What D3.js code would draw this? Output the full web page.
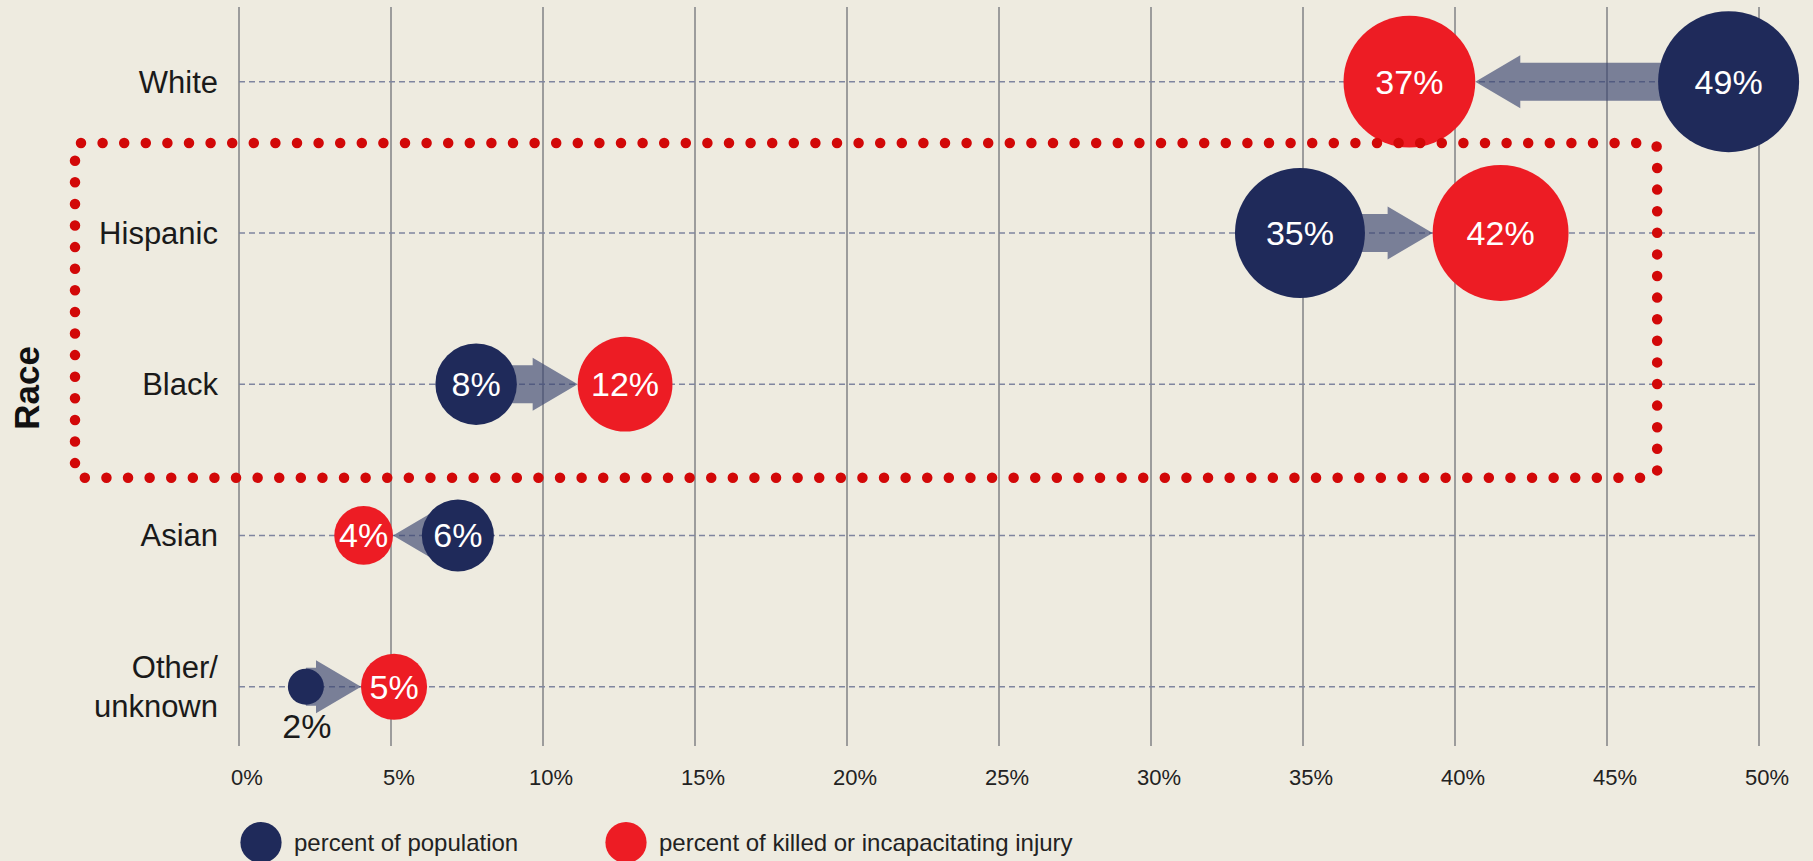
<!DOCTYPE html>
<html>
<head>
<meta charset="utf-8">
<script src="https://cdnjs.cloudflare.com/ajax/libs/d3/7.8.5/d3.min.js"></script>
<style>
  body { margin: 0; background: #eeebe0; }
  svg { display: block; }
  text { font-family: 'Liberation Sans', Arial, sans-serif; }
</style>
</head>
<body>
<div id="chart"></div>
<script>
// data
const races = ['White', 'Hispanic', 'Black', 'Asian', 'Other/unknown'];
const popPct = [49, 35, 8, 6, 2];          // percent of population
const killedPct = [37, 42, 12, 4, 5];      // percent of killed or incapacitating injury
// where each dot sits along the axis in the original (percent units)
const popAt = [49, 34.9, 7.8, 7.2, 2.2];
const killedAt = [38.5, 41.5, 12.7, 4.1, 5.1];
const xTicks = [0, 5, 10, 15, 20, 25, 30, 35, 40, 45, 50];
const legendLabels = ['percent of population', 'percent of killed or incapacitating injury'];

const width = 1813;
const height = 861;
const navy = '#1f2a5a';
const red = '#ed1c24';

const svg = d3.select('#chart')
  .append('svg')
  .attr('width', width)
  .attr('height', height);

svg.append('rect')
  .attr('width', width)
  .attr('height', height)
  .attr('fill', '#eeebe0');

const x = d3.scaleLinear().domain([0, 50]).range([239, 1759]);
const y = d3.scalePoint().domain(races).range([81.7, 686.7]);
const r = d3.scaleLog().domain([2, 49]).range([18, 70.5]);

// vertical grid
svg.append('g')
  .selectAll('line')
  .data(xTicks)
  .join('line')
  .attr('x1', d => x(d))
  .attr('x2', d => x(d))
  .attr('y1', 7)
  .attr('y2', 746)
  .attr('stroke', '#9c9c9c')
  .attr('stroke-width', 2);

// tick labels
svg.append('g')
  .selectAll('text')
  .data(xTicks)
  .join('text')
  .attr('x', d => x(d) + 8)
  .attr('y', 785)
  .attr('text-anchor', 'middle')
  .attr('font-size', 22)
  .attr('fill', '#222')
  .text(d => d + '%');

// dashed row lines
svg.append('g')
  .selectAll('line')
  .data(races)
  .join('line')
  .attr('x1', x(0))
  .attr('x2', x(50))
  .attr('y1', d => y(d))
  .attr('y2', d => y(d))
  .attr('stroke', '#7f859f')
  .attr('stroke-width', 1.6)
  .attr('stroke-dasharray', '6,4');

// row labels
const rowLabels = svg.append('g');
races.forEach(name => {
  const lines = name.includes('/') ? [name.split('/')[0] + '/', name.split('/')[1]] : [name];
  const t = rowLabels.append('text')
    .attr('text-anchor', 'end')
    .attr('font-size', 31)
    .attr('fill', '#1a1a1a');
  lines.forEach((ln, i) => {
    t.append('tspan')
      .attr('x', 218)
      .attr('y', y(name) + 11 + (i - (lines.length - 1) / 2) * 39)
      .text(ln);
  });
});

// axis title
svg.append('text')
  .attr('transform', 'translate(39,388) rotate(-90)')
  .attr('text-anchor', 'middle')
  .attr('font-size', 35)
  .attr('font-weight', 'bold')
  .attr('fill', '#111')
  .text('Race');

// arrows from population dot to killed dot
const rows = races.map((name, i) => ({
  name,
  pop: popPct[i], killed: killedPct[i],
  px: x(popAt[i]), kx: x(killedAt[i]),
  pr: r(popPct[i]), kr: r(killedPct[i])
}));

function arrowPath(d) {
  const yy = y(d.name);
  const dir = Math.sign(d.kx - d.px);
  const tip = d.kx - dir * d.kr;
  const base = tip - dir * 45;
  const sh = 19, hh = 26.5;
  return `M${d.px},${yy - sh}L${base},${yy - sh}L${base},${yy - hh}L${tip},${yy}` +
    `L${base},${yy + hh}L${base},${yy + sh}L${d.px},${yy + sh}Z`;
}

svg.append('g')
  .selectAll('path')
  .data(rows)
  .join('path')
  .attr('d', arrowPath)
  .attr('fill', '#3a4570')
  .attr('fill-opacity', 0.65);

// dots
function drawDots(key, xKey, rKey, color) {
  const g = svg.append('g');
  g.selectAll('circle')
    .data(rows)
    .join('circle')
    .attr('cx', d => d[xKey])
    .attr('cy', d => y(d.name))
    .attr('r', d => d[rKey])
    .attr('fill', color);
  g.selectAll('text')
    .data(rows)
    .join('text')
    .attr('x', d => d[xKey] + (d[rKey] < 25 ? 1 : 0))
    .attr('y', d => d[rKey] < 25 ? y(d.name) + 51 : y(d.name) + 12)
    .attr('text-anchor', 'middle')
    .attr('font-size', d => d[rKey] < 25 ? 34 : 34)
    .attr('fill', d => d[rKey] < 25 ? '#1a1a1a' : '#fff')
    .text(d => d[key] + '%');
}
drawDots('pop', 'px', 'pr', navy);
drawDots('killed', 'kx', 'kr', red);

// dotted highlight box around Hispanic and Black
const box = { x0: 75, x1: x(46.65), y0: y('Hispanic') - 90, y1: y('Black') + 93.5 };
svg.append('rect')
  .attr('x', box.x0)
  .attr('y', box.y0)
  .attr('width', box.x1 - box.x0)
  .attr('height', box.y1 - box.y0)
  .attr('rx', 6)
  .attr('fill', 'none')
  .attr('stroke', '#d20808')
  .attr('stroke-width', 10.5)
  .attr('stroke-linecap', 'round')
  .attr('stroke-dasharray', '0,21.6');

// legend
const legend = svg.append('g');
const legendX = [261, 626];
[navy, red].forEach((c, i) => {
  legend.append('circle')
    .attr('cx', legendX[i])
    .attr('cy', 842.5)
    .attr('r', 20.6)
    .attr('fill', c);
  legend.append('text')
    .attr('x', legendX[i] + 33)
    .attr('y', 851)
    .attr('font-size', 24)
    .attr('fill', '#222')
    .text(legendLabels[i]);
});
</script>
</body>
</html>
